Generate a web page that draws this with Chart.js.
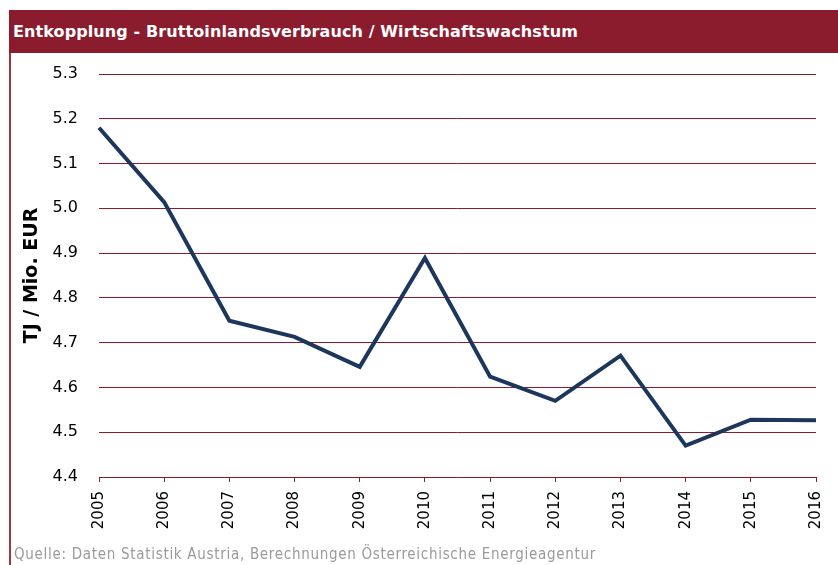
<!DOCTYPE html>
<html>
<head>
<meta charset="utf-8">
<script src="https://cdn.jsdelivr.net/npm/chart.js@4/dist/chart.umd.min.js"></script>
<style>
  html, body { margin: 0; padding: 0; background: #fff; }
  #wrap { position: relative; width: 838px; height: 565px; overflow: hidden; }
  #bar { position: absolute; left: 9px; top: 10px; width: 829px; height: 43px; background: #8B1C2E; }
  #title { position: absolute; left: 13px; top: 22px; color: #fff; font: bold 16px "DejaVu Sans", Verdana, sans-serif; letter-spacing: 0.1px; white-space: nowrap; }
  #border { position: absolute; left: 9px; top: 53px; width: 2px; height: 512px; background: #A8323F; }
  #foot { position: absolute; left: 14px; top: 545px; color: #9a9a9a; font: 15px "DejaVu Sans Condensed", "DejaVu Sans", sans-serif; font-stretch: condensed; letter-spacing: 0.7px; white-space: nowrap; }
  #c { position: absolute; left: 0; top: 0; }
</style>
</head>
<body>
<div id="wrap">
  <canvas id="c" width="838" height="565"></canvas>
  <div id="bar"></div>
  <div id="title">Entkopplung - Bruttoinlandsverbrauch / Wirtschaftswachstum</div>
  <div id="border"></div>
  <div id="foot">Quelle: Daten Statistik Austria, Berechnungen Österreichische Energieagentur</div>
</div>
<script>
const years = ['2005','2006','2007','2008','2009','2010','2011','2012','2013','2014','2015','2016'];
const intensity = [5.18, 5.014, 4.749, 4.713, 4.646, 4.889, 4.624, 4.570, 4.671, 4.470, 4.528, 4.527];
const yMin = 4.4;
const yMax = 5.3;
const yStep = 0.1;
const yTitle = 'TJ / Mio. EUR';

const red = '#8B1C2E';

new Chart(document.getElementById('c'), {
  type: 'line',
  data: {
    labels: years,
    datasets: [{
      data: intensity,
      borderColor: '#1C365C',
      borderWidth: 4,
      pointRadius: 0,
      tension: 0,
      fill: false
    }]
  },
  options: {
    responsive: false,
    animation: false,
    layout: { padding: { left: 21, right: 22, top: 74, bottom: 28 } },
    plugins: { legend: { display: false }, tooltip: { enabled: false } },
    scales: {
      x: {
        offset: false,
        grid: { drawOnChartArea: false, drawTicks: true, tickLength: 5, color: red, lineWidth: 1 },
        border: { display: false },
        ticks: {
          minRotation: 90, maxRotation: 90, autoSkip: false,
          color: '#000', padding: 9,
          font: { family: '"DejaVu Sans", Verdana, sans-serif', size: 15 }
        },
        afterFit: s => { s.height = 60; s.paddingLeft = 0; s.paddingRight = 0; }
      },
      y: {
        min: yMin, max: yMax,
        grid: { color: red, lineWidth: 1, drawTicks: false },
        border: { display: false },
        ticks: {
          stepSize: yStep, color: '#000', padding: 21,
          font: { family: '"DejaVu Sans", Verdana, sans-serif', size: 16 },
          callback: v => Number(v).toFixed(1)
        },
        title: {
          display: true, text: yTitle, color: '#000', padding: 0,
          font: { family: '"DejaVu Sans", Verdana, sans-serif', size: 19, weight: 'bold' }
        },
        afterFit: s => { s.width = 78; }
      }
    }
  }
});
</script>
</body>
</html>
